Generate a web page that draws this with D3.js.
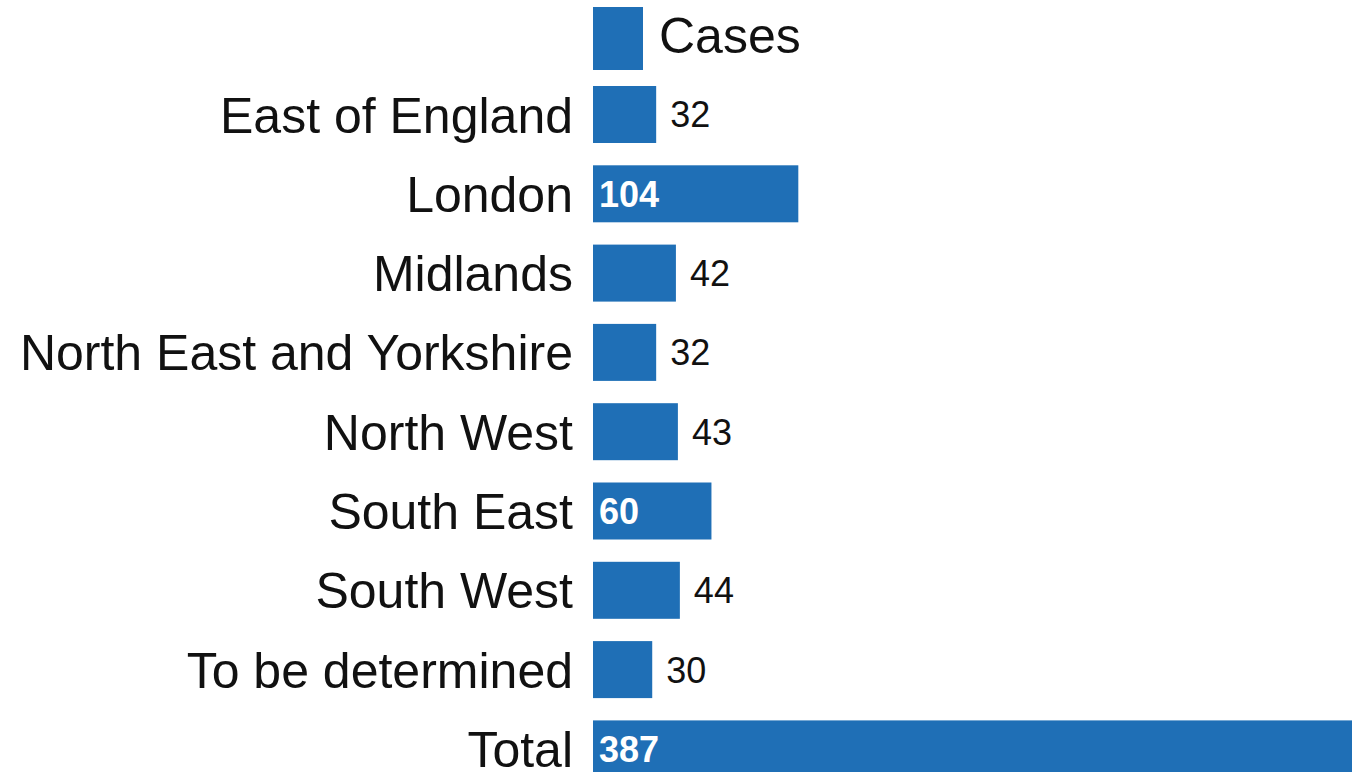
<!DOCTYPE html>
<html>
<head>
<meta charset="utf-8">
<script src="https://cdn.jsdelivr.net/npm/d3@7"></script>
<style>
  html, body { margin: 0; padding: 0; background: #fff; overflow: hidden; }
  svg { display: block; }
</style>
</head>
<body>
<svg id="chart" width="1352" height="772"></svg>
<script>
const categories = ["East of England", "London", "Midlands", "North East and Yorkshire", "North West", "South East", "South West", "To be determined", "Total"];
const cases = [32, 104, 42, 32, 43, 60, 44, 30, 387];
const seriesName = "Cases";

const svg = d3.select("#chart");
const color = "#1f6fb6";
const textColor = "#111";
const font = "'Liberation Sans', Arial, sans-serif";

const x0 = 593;
const x = d3.scaleLinear().domain([0, 387]).range([x0, x0 + 764]);

const step = 79.3, barH = 57, top0 = 86;
const yPos = d3.scaleOrdinal().domain(categories).range(categories.map((c, i) => top0 + step * i));

// Legend
svg.append("rect").attr("x", x0).attr("y", 7).attr("width", 50).attr("height", 63).attr("fill", color);
svg.append("text").attr("x", 659).attr("y", 53).text(seriesName)
  .attr("font-family", font).attr("font-size", 50).attr("fill", textColor);

const g = svg.append("g");
const rows = g.selectAll("g.row").data(categories.map((c, i) => ({c, v: cases[i]}))).join("g").attr("class", "row");

rows.append("rect")
  .attr("x", x(0))
  .attr("y", d => yPos(d.c))
  .attr("width", d => x(d.v) - x(0))
  .attr("height", barH)
  .attr("fill", color);

rows.append("text")
  .attr("x", 573)
  .attr("y", d => yPos(d.c) + barH / 2)
  .attr("dy", "0.36em")
  .attr("text-anchor", "end")
  .attr("font-family", font)
  .attr("font-size", 50)
  .attr("fill", textColor)
  .text(d => d.c);

const inside = d => (x(d.v) - x(0)) > 100;
rows.append("text")
  .attr("x", d => inside(d) ? x(0) + 6 : x(d.v) + 14)
  .attr("y", d => yPos(d.c) + barH / 2)
  .attr("dy", "0.36em")
  .attr("font-family", font)
  .attr("font-size", 36)
  .attr("font-weight", d => inside(d) ? "bold" : "normal")
  .attr("fill", d => inside(d) ? "#fff" : textColor)
  .text(d => d.v);
</script>
</body>
</html>
